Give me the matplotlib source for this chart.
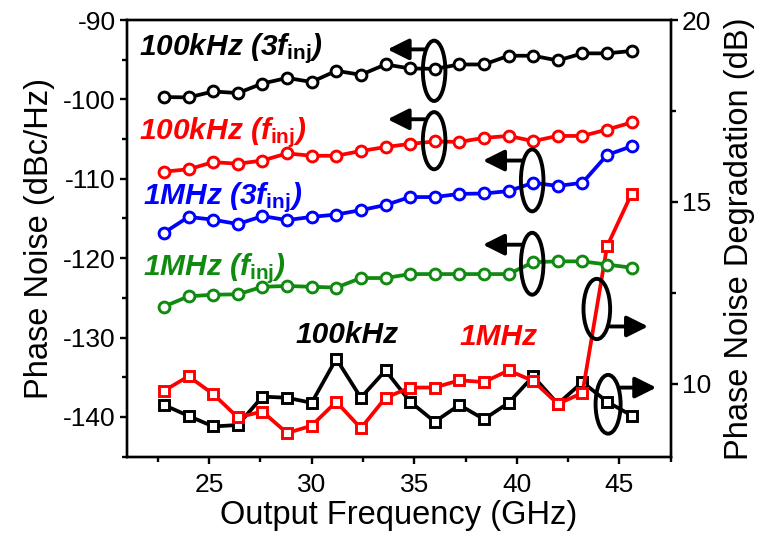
import matplotlib
matplotlib.use("Agg")
import matplotlib.pyplot as plt
from matplotlib.patches import Ellipse
from matplotlib.ticker import MultipleLocator

plt.rcParams['font.family'] = ['Liberation Sans', 'DejaVu Sans']
plt.rcParams['axes.unicode_minus'] = False
plt.rcParams['mathtext.fontset'] = 'custom'
plt.rcParams['mathtext.rm'] = 'Liberation Sans:bold:italic'
plt.rcParams['mathtext.it'] = 'Liberation Sans:bold:italic'
plt.rcParams['mathtext.bf'] = 'Liberation Sans:bold'

# output frequency (GHz)
freq = [22.8, 24.0, 25.2, 26.4, 27.6, 28.8, 30.0, 31.2, 32.4, 33.6,
        34.8, 36.0, 37.2, 38.4, 39.6, 40.8, 42.0, 43.2, 44.4, 45.6]

# phase noise, left axis (dBc/Hz)
pn_100k_3f = [-99.7, -99.75, -99.0, -99.2, -98.0, -97.3, -97.8, -96.4, -96.9, -95.6,
              -96.1, -96.15, -95.6, -95.6, -94.5, -94.5, -95.1, -94.2, -94.2, -93.9]
pn_100k_f = [-109.1, -108.8, -107.9, -108.1, -107.7, -106.8, -107.1, -107.1, -106.5, -106.0,
             -105.6, -105.3, -105.35, -104.85, -104.6, -105.25, -104.6, -104.6, -103.8, -102.9]
pn_1m_3f = [-116.8, -114.8, -115.15, -115.7, -114.7, -115.2, -114.8, -114.5, -113.95, -113.3,
            -112.3, -112.3, -111.9, -111.85, -111.55, -110.5, -110.9, -110.5, -107.0, -105.9]
pn_1m_f = [-126.1, -124.8, -124.6, -124.55, -123.6, -123.5, -123.6, -123.7, -122.5, -122.5,
           -122.0, -122.0, -122.0, -122.0, -122.0, -120.5, -120.4, -120.4, -120.8, -121.2]

# phase noise degradation, right axis (dB)
deg_100k = [9.42, 9.12, 8.83, 8.87, 9.65, 9.62, 9.48, 10.69, 9.62, 10.37,
            9.51, 8.96, 9.42, 9.03, 9.48, 10.21, 9.45, 10.05, 9.51, 9.13]
deg_1m = [9.81, 10.21, 9.72, 9.08, 9.24, 8.65, 8.85, 9.51, 8.78, 9.62,
          9.90, 9.90, 10.10, 10.05, 10.37, 10.08, 9.45, 9.75, 13.78, 15.23]

green = '#118a11'
fs_tick = 19
fs_label = 23.5
fs_note = 21.5

fig = plt.figure(figsize=(7.61, 5.35), dpi=100)
ax = fig.add_axes([0.1669, 0.1464, 0.8813 - 0.1669, 0.9626 - 0.1464])
ax2 = ax.twinx()
ax.set_zorder(ax2.get_zorder() + 1)
ax.patch.set_visible(False)

circ = dict(marker='o', ms=7.8, mfc='white', mew=2.1, lw=2.7)
ax.plot(freq, pn_100k_3f, color='black', **circ)
ax.plot(freq, pn_100k_f, color='red', **circ)
ax.plot(freq, pn_1m_3f, color='blue', **circ)
ax.plot(freq, pn_1m_f, color=green, **circ)

sq = dict(marker='s', ms=7.2, mfc='white', mew=2.1, lw=2.7)
ax2.plot(freq, deg_100k, color='black', **sq)
ax2.plot(freq, deg_1m, color='red', **sq)

ax.set_xlim(21, 47.5)
ax.set_ylim(-145, -90)
ax2.set_ylim(8, 20)

ax.xaxis.set_major_locator(MultipleLocator(5))
ax.xaxis.set_minor_locator(MultipleLocator(2.5))
ax.yaxis.set_major_locator(MultipleLocator(10))
ax.yaxis.set_minor_locator(MultipleLocator(5))
ax2.yaxis.set_major_locator(MultipleLocator(5))
ax2.yaxis.set_minor_locator(MultipleLocator(2.5))

for a in (ax, ax2):
    for s in a.spines.values():
        s.set_linewidth(1.7)
    a.tick_params(which='major', direction='out', length=5, width=1.7,
                  labelsize=fs_tick, pad=3)
    a.tick_params(which='minor', direction='out', length=3.5, width=1.7)
ax.tick_params(axis='x', which='both', top=False)
ax.tick_params(axis='x', which='major', pad=7)
ax.tick_params(axis='y', which='both', right=False)

ax.set_xlabel('Output Frequency (GHz)', fontsize=fs_label, labelpad=2)
ax.set_ylabel('Phase Noise (dBc/Hz)', fontsize=fs_label, labelpad=6)
ax2.set_ylabel('Phase Noise Degradation (dB)', fontsize=fs_label, labelpad=9)

note = dict(fontsize=fs_note, fontweight='bold', fontstyle='italic',
            ha='left', va='center')
ax.text(21.6, -93.6, r'100kHz (3$f_{\mathbf{inj}}$)', color='black', **note)
ax.text(21.6, -104.2, r'100kHz ($f_{\mathbf{inj}}$)', color='red', **note)
ax.text(21.8, -112.4, r'1MHz (3$f_{\mathbf{inj}}$)', color='blue', **note)
ax.text(21.8, -121.3, r'1MHz ($f_{\mathbf{inj}}$)', color=green, **note)
ax.text(29.2, -129.7, '100kHz', color='black', **note)
ax.text(37.2, -129.9, '1MHz', color='red', **note)

ell = dict(fill=False, ec='black', lw=2.8, zorder=5)
arr = dict(arrowstyle='-|>', mutation_scale=32, lw=2.8, color='black',
           shrinkA=0, shrinkB=0)
ax.add_patch(Ellipse((35.97, -96.4), 1.1, 7.6, **ell))
ax.annotate('', xy=(33.7, -93.7), xytext=(35.5, -93.7), arrowprops=arr)
ax.add_patch(Ellipse((35.97, -105.2), 1.1, 7.2, **ell))
ax.annotate('', xy=(33.7, -102.5), xytext=(35.5, -102.5), arrowprops=arr)
ax.add_patch(Ellipse((40.75, -110.2), 1.1, 7.8, **ell))
ax.annotate('', xy=(38.35, -107.7), xytext=(40.3, -107.7), arrowprops=arr)
ax.add_patch(Ellipse((40.75, -120.7), 1.1, 7.8, **ell))
ax.annotate('', xy=(38.35, -118.3), xytext=(40.3, -118.3), arrowprops=arr)
ax.add_patch(Ellipse((43.9, -126.4), 1.3, 7.6, **ell))
ax.annotate('', xy=(46.4, -128.6), xytext=(44.55, -128.6), arrowprops=arr)
ax.add_patch(Ellipse((44.45, -138.4), 1.22, 7.4, **ell))
ax.annotate('', xy=(46.8, -136.3), xytext=(45.05, -136.3), arrowprops=arr)

fig.savefig('out.png', dpi=100)
